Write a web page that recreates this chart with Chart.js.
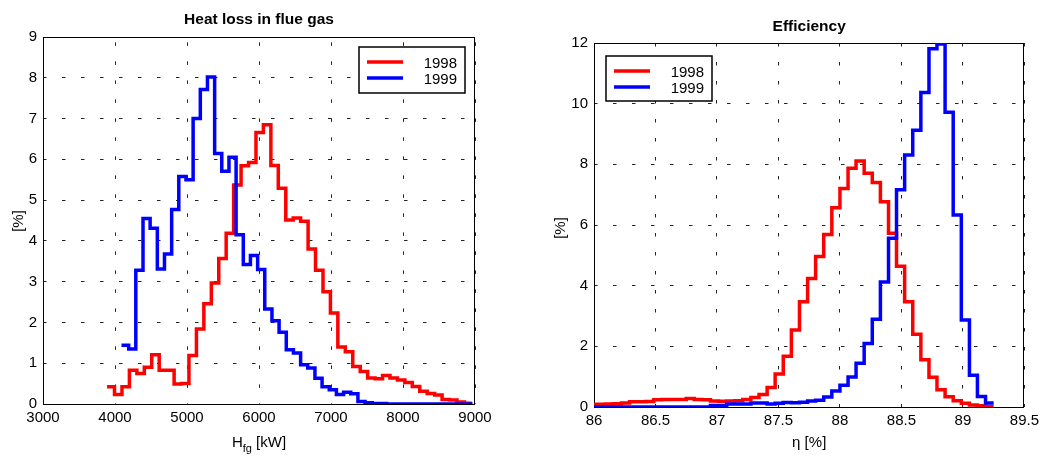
<!DOCTYPE html>
<html>
<head>
<meta charset="utf-8">
<script src="https://cdn.jsdelivr.net/npm/chart.js@4.4.1/dist/chart.umd.min.js"></script>
<style>
  html, body { margin: 0; padding: 0; background: #fff; }
  body { width: 1044px; height: 457px; position: relative; overflow: hidden; }
  canvas { position: absolute; top: 0; }
</style>
</head>
<body>
<canvas id="heat" width="522" height="457" style="left:0"></canvas>
<canvas id="eff" width="522" height="457" style="left:522px"></canvas>
<script>
const FONT = '"Liberation Sans", Arial, sans-serif';
const YEARS = ['1998', '1999'];
const COLORS = ['#ff0000', '#0000ff'];

// heat loss in flue gas: bin edges [kW] and share of hours per bin [%]
const heatEdges1998 = [
  3890, 3993, 4097, 4200, 4304, 4407, 4510, 4614, 4717, 4821,
  4924, 5027, 5131, 5234, 5338, 5441, 5544, 5648, 5751, 5855,
  5958, 6061, 6165, 6268, 6372, 6475, 6578, 6682, 6785, 6889,
  6992, 7095, 7199, 7302, 7406, 7509, 7612, 7716, 7819, 7923,
  8026, 8129, 8233, 8336, 8440, 8543, 8646, 8750, 8853, 8957,
];
const heat1998 = [
  0.42, 0.23, 0.42, 0.83, 0.75, 0.9, 1.21, 0.83, 0.83, 0.49,
  0.5, 1.19, 1.84, 2.46, 2.97, 3.57, 4.19, 5.37, 5.84, 5.92,
  6.66, 6.85, 5.85, 5.29, 4.51, 4.56, 4.48, 3.8, 3.28, 2.75,
  2.23, 1.4, 1.28, 0.92, 0.8, 0.64, 0.62, 0.7, 0.64, 0.59,
  0.53, 0.43, 0.31, 0.26, 0.22, 0.11, 0.1, 0.05, 0.02,
];
const heatEdges1999 = [
  4090, 4190, 4289, 4389, 4488, 4588, 4687, 4787, 4886, 4986,
  5085, 5185, 5284, 5384, 5483, 5583, 5682, 5782, 5881, 5981,
  6080, 6180, 6279, 6379, 6478, 6578, 6677, 6777, 6876, 6976,
  7075, 7175, 7274, 7374, 7473, 7573, 7672, 7772, 7871, 7971,
  8070, 8170, 8269, 8369, 8468, 8568, 8667, 8767, 8866, 8966,
];
const heat1999 = [
  1.44, 1.35, 3.28, 4.55, 4.31, 3.31, 3.68, 4.77, 5.58, 5.5,
  7.0, 7.71, 8.02, 6.14, 5.71, 6.05, 4.15, 3.42, 3.64, 3.3,
  2.33, 2.04, 1.76, 1.33, 1.25, 0.96, 0.88, 0.63, 0.42, 0.35,
  0.23, 0.29, 0.25, 0.06, 0.03, 0.01, 0.01, 0, 0, 0,
  0, 0, 0, 0, 0, 0, 0, 0, 0,
];
const heatXTicks = [3000, 4000, 5000, 6000, 7000, 8000, 9000];
const heatYTicks = [0, 1, 2, 3, 4, 5, 6, 7, 8, 9];

// efficiency: bin edges [%] shared by both years, share per bin [%]
const effEdges = [
  85.960, 86.026, 86.092, 86.157, 86.223, 86.289, 86.355, 86.421, 86.486, 86.552,
  86.618, 86.684, 86.750, 86.815, 86.881, 86.947, 87.013, 87.079, 87.144, 87.210,
  87.276, 87.342, 87.408, 87.473, 87.539, 87.605, 87.671, 87.737, 87.802, 87.868,
  87.934, 88.000, 88.066, 88.131, 88.197, 88.263, 88.329, 88.395, 88.460, 88.526,
  88.592, 88.658, 88.724, 88.789, 88.855, 88.921, 88.987, 89.053, 89.118, 89.184,
  89.250,
];
const eff1998 = [
  0.08, 0.09, 0.1, 0.11, 0.13, 0.17, 0.17, 0.18, 0.24, 0.25,
  0.25, 0.25, 0.28, 0.25, 0.24, 0.2, 0.19, 0.2, 0.21, 0.25,
  0.31, 0.41, 0.64, 1.09, 1.67, 2.54, 3.47, 4.24, 4.96, 5.69,
  6.57, 7.2, 7.87, 8.11, 7.71, 7.4, 6.77, 5.73, 4.64, 3.47,
  2.4, 1.56, 0.98, 0.57, 0.34, 0.21, 0.12, 0.07, 0.04, 0.02,
];
const eff1999 = [
  0, 0, 0, 0, 0, 0, 0, 0, 0, 0,
  0, 0, 0, 0, 0, 0.05, 0.05, 0.1, 0.1, 0.1,
  0.13, 0.13, 0.1, 0.12, 0.15, 0.14, 0.16, 0.2, 0.22, 0.33,
  0.53, 0.72, 0.99, 1.44, 2.09, 2.89, 4.12, 5.56, 7.16, 8.31,
  9.12, 10.37, 11.81, 11.97, 9.72, 6.33, 2.87, 1.05, 0.35, 0.13,
];
const effXTicks = [86, 86.5, 87, 87.5, 88, 88.5, 89, 89.5];
const effYTicks = [0, 2, 4, 6, 8, 10, 12];

// stairs: hold each bin value until the next edge
const stairs = (edges, values) => edges.map((x, i) => ({ x, y: values[Math.min(i, values.length - 1)] }));

// box, titles and the in-plot legend, matlab style
const framePlugin = {
  id: 'frame',
  beforeDatasetsDraw(chart) {
    const { ctx, chartArea: a } = chart;
    ctx.save();
    ctx.strokeStyle = '#000';
    ctx.lineWidth = 1;
    ctx.strokeRect(Math.round(a.left) + 0.5, Math.round(a.top) + 0.5,
      Math.round(a.width) - 1, Math.round(a.height));
    ctx.restore();
  },
  afterDraw(chart, args, opts) {
    const { ctx, chartArea: a } = chart;
    const cx = (a.left + a.right) / 2;
    ctx.save();
    ctx.fillStyle = '#000';

    ctx.font = `bold 15.5px ${FONT}`;
    ctx.textAlign = 'center';
    ctx.textBaseline = 'alphabetic';
    ctx.fillText(opts.title, cx, opts.titleY);

    // x axis title, pieces so that a subscript can be used
    const parts = opts.xTitle;
    const widths = parts.map((p) => {
      ctx.font = `${p.sub ? 11 : 15}px ${FONT}`;
      return ctx.measureText(p.text).width;
    });
    let x = cx - widths.reduce((s, w) => s + w, 0) / 2;
    ctx.textAlign = 'left';
    parts.forEach((p, i) => {
      ctx.font = `${p.sub ? 11 : 15}px ${FONT}`;
      ctx.fillText(p.text, x, 447 + (p.sub ? 5 : 0));
      x += widths[i];
    });

    // y axis title
    ctx.font = `15px ${FONT}`;
    ctx.textAlign = 'center';
    ctx.textBaseline = 'middle';
    ctx.translate(opts.yTitleX, opts.yTitleY);
    ctx.rotate(-Math.PI / 2);
    ctx.fillText('[%]', 0, 0);
    ctx.setTransform(1, 0, 0, 1, 0, 0);

    // legend
    const l = opts.legend;
    ctx.fillStyle = '#fff';
    ctx.fillRect(l.x, l.y, l.w, l.h);
    ctx.strokeStyle = '#000';
    ctx.lineWidth = 1.5;
    ctx.strokeRect(l.x, l.y, l.w, l.h);
    chart.data.datasets.forEach((ds, i) => {
      const rowY = l.y + 15 + i * 16;
      ctx.strokeStyle = ds.borderColor;
      ctx.lineWidth = 3.5;
      ctx.beginPath();
      ctx.moveTo(l.x + 8, rowY);
      ctx.lineTo(l.x + 44, rowY);
      ctx.stroke();
      ctx.fillStyle = '#000';
      ctx.font = `15px ${FONT}`;
      ctx.textAlign = 'right';
      ctx.textBaseline = 'alphabetic';
      ctx.fillText(ds.label, l.x + 98, l.y + 21 + i * 16);
    });
    ctx.restore();
  },
};

function histChart(id, cfg) {
  const tickFont = { family: FONT, size: 15 };
  return new Chart(document.getElementById(id), {
    type: 'line',
    data: {
      datasets: cfg.series.map((s, i) => ({
        label: YEARS[i],
        data: s,
        borderColor: COLORS[i],
        backgroundColor: COLORS[i],
        borderWidth: 3.5,
        borderJoinStyle: 'miter',
        pointRadius: 0,
        fill: false,
        stepped: true,
        order: 1 - i,
      })),
    },
    options: {
      responsive: false,
      animation: false,
      events: [],
      layout: { padding: cfg.padding },
      plugins: {
        legend: { display: false },
        tooltip: { enabled: false },
        frame: cfg.frame,
      },
      scales: {
        x: {
          type: 'linear',
          min: cfg.xTicks[0],
          max: cfg.xTicks[cfg.xTicks.length - 1],
          afterBuildTicks: (s) => { s.ticks = cfg.xTicks.map((value) => ({ value })); },
          afterFit: (s) => { s.height = cfg.xHeight; },
          ticks: {
            font: tickFont, color: '#000', padding: 5, maxRotation: 0, autoSkip: false,
            callback: (v) => String(v),
          },
          grid: { color: '#222', lineWidth: 1, drawTicks: false },
          border: { display: false, dash: [3.5, 15.5], dashOffset: cfg.xDashOffset },
        },
        y: {
          type: 'linear',
          min: cfg.yTicks[0],
          max: cfg.yTicks[cfg.yTicks.length - 1],
          afterBuildTicks: (s) => { s.ticks = cfg.yTicks.map((value) => ({ value })); },
          afterFit: (s) => { s.width = cfg.yWidth; },
          ticks: {
            font: tickFont, color: '#000', padding: 6, autoSkip: false,
            callback: (v) => String(v),
          },
          grid: { color: '#222', lineWidth: 1, drawTicks: false },
          border: { display: false, dash: [3.5, 15.5] },
        },
      },
    },
    plugins: [framePlugin],
  });
}

histChart('heat', {
  series: [stairs(heatEdges1998, heat1998), stairs(heatEdges1999, heat1999)],
  xTicks: heatXTicks,
  yTicks: heatYTicks,
  padding: { top: 37, right: 47, left: 0, bottom: 0 },
  yWidth: 43,
  xHeight: 53,
  xDashOffset: -5.4,
  frame: {
    title: 'Heat loss in flue gas',
    titleY: 24,
    xTitle: [{ text: 'H' }, { text: 'fg', sub: true }, { text: ' [kW]' }],
    yTitleX: 18.5,
    yTitleY: 221,
    legend: { x: 359, y: 47, w: 106, h: 46 },
  },
});

histChart('eff', {
  series: [stairs(effEdges, eff1998), stairs(effEdges, eff1999)],
  xTicks: effXTicks,
  yTicks: effYTicks,
  padding: { top: 43, right: 18, left: 0, bottom: 0 },
  yWidth: 72,
  xHeight: 50,
  xDashOffset: 0,
  frame: {
    title: 'Efficiency',
    titleY: 30.5,
    xTitle: [{ text: 'η [%]' }],
    yTitleX: 38.5,
    yTitleY: 228,
    legend: { x: 84, y: 56, w: 106, h: 45 },
  },
});
</script>
</body>
</html>
